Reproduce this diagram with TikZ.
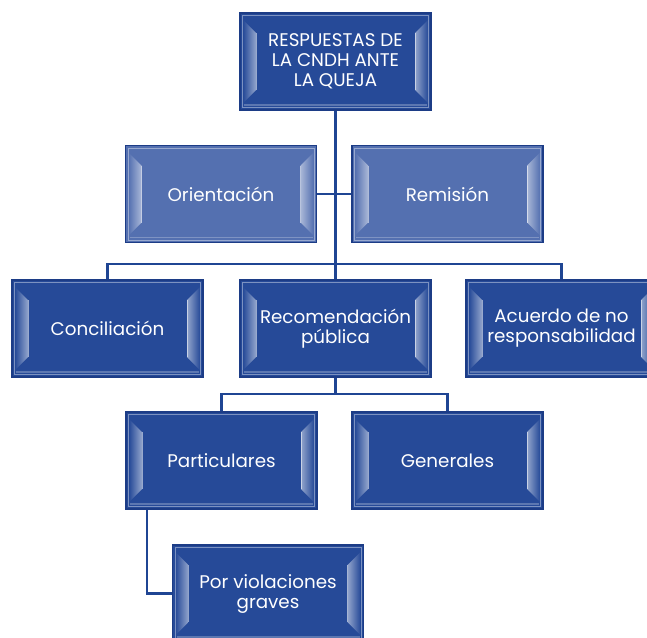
\documentclass[tikz,border=0pt]{standalone}
\usepackage{fontspec}
\setmainfont{Poppins}
\usetikzlibrary{calc}
\pgfdeclarelayer{background}
\pgfsetlayers{background,main}
\definecolor{boxdark}{HTML}{264A98}
\definecolor{boxlight}{HTML}{5470B0}
\definecolor{boxline}{HTML}{1C3C86}
\definecolor{wire}{HTML}{1F4593}
\tikzset{
  box/.style={
    rectangle, fill=#1, draw=boxline, line width=1.4pt,
    minimum width=191pt, minimum height=97pt, inner sep=0pt,
    text=white, align=center, font=\fontsize{18.3}{20}\selectfont,
    path picture={
      \coordinate (nw) at (path picture bounding box.north west);
      \coordinate (ne) at (path picture bounding box.north east);
      \coordinate (sw) at (path picture bounding box.south west);
      \coordinate (se) at (path picture bounding box.south east);
      % side bevels
      \fill[left color=#1, right color=#1!50!white]
        ($(nw)+(3,7)$) -- ($(nw)+(16,20)$) -- ($(sw)+(16,-20)$) -- ($(sw)+(3,-7)$) -- cycle;
      \fill[left color=#1!50!white, right color=#1]
        ($(ne)+(-16,20)$) -- ($(ne)+(-3,7)$) -- ($(se)+(-3,-7)$) -- ($(se)+(-16,-20)$) -- cycle;
      \draw[white, opacity=.5, line width=.6pt]
        ($(nw)+(16,20)$) -- ($(sw)+(16,-20)$);
      \draw[white, opacity=.5, line width=.6pt]
        ($(ne)+(-16,20)$) -- ($(se)+(-16,-20)$);
      % thin inner highlight
      \draw[white, opacity=.4, line width=.8pt]
        ($(nw)+(2.5,2.5)$) rectangle ($(se)+(-2.5,-2.5)$);
      \draw[white, opacity=.25, line width=1.2pt]
        ($(sw)+(4,-5)$) -- ($(se)+(-4,-5)$);
    }
  },
  wiring/.style={draw=wire, line width=2.6pt}
}
\begin{document}
\begin{tikzpicture}[x=1pt, y=-1pt]
\useasboundingbox (0,0) rectangle (647,637);
\clip (0,0) rectangle (647,637);

% boxes
\node[box=boxdark]  (root)    at (335.5, 61.5) {RESPUESTAS DE\\LA CNDH ANTE\\LA QUEJA};
\node[box=boxlight] (orient)  at (221,   194)  {Orientación};
\node[box=boxlight] (remis)   at (447.5, 194)  {Remisión};
\node[box=boxdark]  (concil)  at (107.5, 328.5) {Conciliación};
\node[box=boxdark]  (recom)   at (335.5, 328.5) {Recomendación\\pública};
\node[box=boxdark]  (acuerdo) at (561.5, 328.5) {Acuerdo de no\\responsabilidad};
\node[box=boxdark]  (partic)  at (221.5, 460.5) {Particulares};
\node[box=boxdark]  (gener)   at (447.5, 460.5) {Generales};
\node[box=boxdark]  (graves)  at (268,   593.5) {Por violaciones\\graves};

% junction points of the connectors
\coordinate (busA) at (335.5, 264);
\coordinate (busB) at (335.5, 394);
\coordinate (pdrop) at (147, 509);

% connectors, beneath the boxes
\begin{pgfonlayer}{background}
\draw[wiring] (root.south) -- (recom.north);
\draw[wiring] (orient.east) -- (remis.west);
\draw[wiring] (concil.north) |- (busA) -| (acuerdo.north);
\draw[wiring] (recom.south) -- (busB);
\draw[wiring] (partic.north) |- (busB) -| (gener.north);
\draw[wiring] (pdrop) |- (graves.west);
\end{pgfonlayer}
\end{tikzpicture}
\end{document}
